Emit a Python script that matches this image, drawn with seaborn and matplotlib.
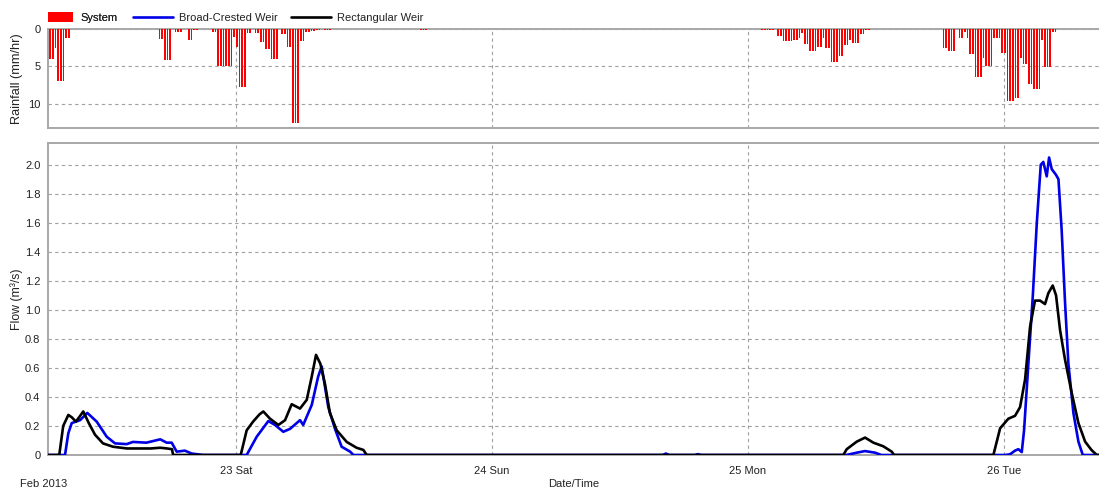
import numpy as np
import pandas as pd
import matplotlib
matplotlib.use("Agg")
import matplotlib.pyplot as plt
import seaborn as sns
from matplotlib.patches import Patch, Rectangle
from matplotlib.lines import Line2D
from matplotlib.legend_handler import HandlerPatch
from matplotlib.ticker import MultipleLocator, FixedLocator, FuncFormatter

# time axis: hours since 22 Feb 2013 00:00
day_ticks = [24, 48, 72, 96]
day_labels = ["23 Sat", "24 Sun", "25 Mon", "26 Tue"]
x_start, x_end = 6.375, 104.9

# rainfall (15-min bars), mm/hr
rain_time = [6.5, 6.75, 7.0, 7.25, 7.5, 7.75, 8.0, 8.25,
             16.75, 17.0, 17.25, 17.5, 17.75, 18.25, 18.5, 18.75, 19.5, 19.75, 20.0, 20.25,
             21.75, 22.0, 22.25, 22.5, 22.75, 23.0, 23.25, 23.5, 23.75, 24.0, 24.25, 24.5, 24.75,
             25.0, 25.25, 25.75, 26.0, 26.25, 26.5, 26.75, 27.0, 27.25, 27.5, 27.75,
             28.25, 28.5, 28.75, 29.0, 29.25, 29.5, 29.75, 30.0, 30.25,
             30.5, 30.75, 31.0, 31.25, 31.5, 31.75, 32.25, 32.5, 32.75,
             41.25, 41.5, 41.75,
             73.25, 73.5, 73.75, 74.0, 74.25, 74.75, 75.0, 75.25, 75.5, 75.75, 76.0,
             76.25, 76.5, 76.75, 77.0, 77.25, 77.5, 77.75, 78.0, 78.25, 78.5, 78.75,
             79.0, 79.25, 79.5, 79.75, 80.0, 80.25, 80.5, 80.75, 81.0, 81.25, 81.5,
             81.75, 82.0, 82.25, 82.5, 82.75, 83.0, 83.25,
             90.25, 90.5, 90.75, 91.0, 91.25, 91.75, 92.0, 92.25, 92.5, 92.75, 93.0,
             93.25, 93.5, 93.75, 94.0, 94.25, 94.5, 94.75, 95.0, 95.25, 95.5, 95.75,
             96.0, 96.25, 96.5, 96.75, 97.0, 97.25, 97.5, 97.75, 98.0, 98.25, 98.5,
             98.75, 99.0, 99.25, 99.5, 99.75, 100.0, 100.25, 100.5, 100.75]
rain_mm = [4.0, 4.0, 2.5, 7.0, 7.0, 7.0, 1.2, 1.2,
           1.3, 1.3, 4.1, 4.1, 4.1, 0.45, 0.45, 0.45, 1.5, 1.5, 0.2, 0.2,
           0.35, 0.35, 5.0, 5.0, 5.0, 5.0, 5.0, 5.0, 1.1, 2.4, 7.7, 7.7, 7.7,
           0.5, 0.5, 0.5, 0.5, 1.8, 1.8, 2.7, 2.7, 4.0, 4.0, 4.0,
           0.7, 0.7, 2.4, 2.4, 12.6, 12.6, 12.6, 1.6, 1.6,
           0.45, 0.4, 0.3, 0.3, 0.2, 0.15, 0.1, 0.1, 0.1,
           0.2, 0.2, 0.2,
           0.15, 0.15, 0.15, 0.15, 0.15, 0.9, 0.9, 1.6, 1.6, 1.6, 1.6,
           1.45, 1.45, 1.2, 0.6, 2.0, 2.0, 3.0, 3.0, 3.0, 2.4, 2.4,
           1.2, 2.5, 2.5, 4.4, 4.4, 4.4, 3.6, 3.6, 2.2, 2.2, 1.5,
           1.9, 1.9, 1.9, 0.7, 0.7, 0.2, 0.2,
           2.5, 2.5, 3.0, 3.0, 3.0, 1.25, 1.25, 0.4, 1.2, 3.4, 3.4,
           6.35, 6.35, 6.35, 3.9, 4.9, 4.9, 4.9, 1.25, 1.25, 1.25, 3.25,
           3.25, 9.6, 9.6, 9.6, 9.15, 9.15, 3.9, 4.7, 4.7, 7.4, 7.4,
           8.0, 8.0, 8.0, 1.5, 5.07, 5.07, 5.07, 0.4, 0.4]

# flow, m3/s
broad_time = [6.375, 7.97, 8.28, 8.6, 9.38, 10.06, 10.94, 11.88, 12.66, 13.75, 14.34, 15.6,
              16.9, 17.5, 17.97, 18.44, 19.2, 19.85, 20.9,
              25.0, 25.94, 27.03, 27.66, 28.43, 29.06, 30.0, 30.3, 31.1, 31.7, 32.03,
              32.65, 33.28, 33.9, 34.7, 35.0,
              64.0, 64.3, 64.6, 67.0, 67.3, 67.6,
              81.2, 82.19, 82.97, 83.9, 84.5,
              96.1, 96.56, 97.03, 97.34, 97.66, 97.875, 98.28, 98.69, 99.07, 99.44, 99.68,
              100.0, 100.22, 100.47, 100.875, 101.1, 101.4, 101.72, 102.03, 102.5, 102.97,
              103.38, 104.9]
broad_flow = [0, 0, 0.15, 0.22, 0.24, 0.29, 0.23, 0.126, 0.08, 0.075, 0.09, 0.085,
              0.108, 0.085, 0.085, 0.023, 0.03, 0.01, 0,
              0, 0.126, 0.234, 0.207, 0.16, 0.18, 0.24, 0.207, 0.345, 0.54, 0.61,
              0.33, 0.18, 0.057, 0.023, 0,
              0, 0.01, 0, 0, 0.006, 0,
              0, 0.016, 0.027, 0.016, 0,
              0, 0.005, 0.03, 0.04, 0.02, 0.17, 0.63, 1.09, 1.6, 2.0, 2.02,
              1.92, 2.05, 1.97, 1.93, 1.9, 1.55, 1.046, 0.63, 0.29, 0.092,
              0, 0]

rect_time = [6.375, 7.43, 7.8, 8.28, 8.6, 9.0, 9.68, 10.2, 10.78, 11.53, 12.47, 13.78,
             15.0, 16.0, 16.9, 17.53, 18.0, 18.1,
             24.44, 25.0, 25.6, 26.2, 26.56, 27.19, 27.97, 28.6, 29.22, 30.0, 30.63, 31.1,
             31.5, 31.9, 32.34, 32.8, 33.44, 34.38, 35.3, 35.94, 36.25,
             80.93, 81.25, 82.19, 82.97, 83.75, 84.68, 85.47, 85.69,
             95.0, 95.63, 96.4, 97.03, 97.5, 97.97, 98.44, 98.9, 99.375, 99.84, 100.15,
             100.56, 100.875, 101.25, 101.72, 102.35, 102.97, 103.6, 104.2, 104.69, 104.9]
rect_flow = [0, 0, 0.2, 0.276, 0.26, 0.23, 0.30, 0.22, 0.14, 0.08, 0.057, 0.045,
             0.045, 0.045, 0.05, 0.045, 0.04, 0,
             0, 0.17, 0.23, 0.28, 0.30, 0.25, 0.207, 0.24, 0.35, 0.32, 0.38, 0.54,
             0.69, 0.63, 0.49, 0.29, 0.17, 0.09, 0.05, 0.035, 0,
             0, 0.04, 0.092, 0.12, 0.085, 0.06, 0.023, 0,
             0, 0.184, 0.25, 0.27, 0.33, 0.52, 0.885, 1.064, 1.064, 1.04, 1.115,
             1.168, 1.1, 0.86, 0.655, 0.425, 0.22, 0.092, 0.034, 0, 0]

series_names = ["System", "Broad-Crested Weir", "Rectangular Weir"]
rain_color = "#ff0000"
broad_color = "#0000e6"
rect_color = "#000000"

sns.set_theme(style="white")
plt.rcParams["font.family"] = ["Liberation Sans", "DejaVu Sans"]
txt = "#222222"
grid_c = "#a0a0a0"
spine_c = "#a8a8a8"

W, H = 1099, 490
fig = plt.figure(figsize=(W / 100, H / 100), dpi=100)
L, R = 48, 1099
ax_r = fig.add_axes([L / W, 1 - 128 / H, (R - L) / W, 99 / H])
ax_f = fig.add_axes([L / W, 1 - 455 / H, (R - L) / W, 312 / H])

# rainfall
ax_r.bar(rain_time, rain_mm, width=0.16, align="edge", color=rain_color, linewidth=0, zorder=3)
ax_r.set_ylim(13.2, 0)
ax_r.set_xlim(x_start, x_end)
ax_r.yaxis.set_major_locator(FixedLocator([0, 5, 10]))
ax_r.yaxis.set_minor_locator(MultipleLocator(1))
ax_r.set_ylabel("Rainfall (mm/hr)", fontsize=9.2, color=txt)
ax_r.set_xticks(day_ticks)
ax_r.set_xticklabels([])
ax_r.tick_params(axis="x", length=0)

# flow
df_b = pd.DataFrame({"t": broad_time, "q": broad_flow})
df_r = pd.DataFrame({"t": rect_time, "q": rect_flow})
sns.lineplot(data=df_b, x="t", y="q", ax=ax_f, color=broad_color, linewidth=1.9, zorder=3)
sns.lineplot(data=df_r, x="t", y="q", ax=ax_f, color=rect_color, linewidth=1.9, zorder=4)
ax_f.set_xlim(x_start, x_end)
ax_f.set_ylim(0, 2.15)
ax_f.yaxis.set_major_locator(MultipleLocator(0.2))
ax_f.yaxis.set_minor_locator(MultipleLocator(0.05))
ax_f.yaxis.set_major_formatter(FuncFormatter(lambda v, p: "0" if abs(v) < 1e-9 else f"{v:.1f}"))
ax_f.set_ylabel("Flow (m\u00b3/s)", fontsize=8.8, color=txt)
ax_f.set_xticks(day_ticks)
ax_f.set_xticklabels(day_labels)
ax_f.set_xlabel("Date/Time", fontsize=8, color=txt)
ax_f.xaxis.set_label_coords(0.5, -(484 - 455) / 312)
ax_f.xaxis.label.set_va("center")
ax_f.tick_params(axis="x", direction="out", length=5, width=0.8, color="#808080",
                 pad=3, labelsize=8, labelcolor=txt)

for ax in (ax_r, ax_f):
    ax.yaxis.label.set_va("center")
    ax.yaxis.set_label_coords((17 - L) / (R - L), 0.5)
    ax.grid(True, which="major", color=grid_c, linestyle=(0, (3, 3)), linewidth=0.8)
    ax.set_axisbelow(True)
    ax.tick_params(axis="y", which="both", direction="in", length=5, width=0.8,
                   color="#808080", pad=5.5, labelsize=8, labelcolor=txt)
    ax.spines["right"].set_visible(False)
    for s in ("top", "bottom", "left"):
        ax.spines[s].set_color(spine_c)
        ax.spines[s].set_linewidth(1.4)

fig.text(20 / W, 1 - 484 / H, "Feb 2013", fontsize=8, color=txt, va="center", ha="left")

# legend
fs = 8
em = fs * 100 / 72


def rect_patch(legend, orig_handle, xdescent, ydescent, width, height, fontsize):
    h = 10 * 72 / 100
    return Rectangle((-xdescent, -ydescent + height / 2 - h / 2), width, h)


leg1 = fig.legend(handles=[Patch(facecolor=rain_color, edgecolor="none", label=series_names[0])],
                  loc="center left", bbox_to_anchor=(L / W, 1 - 18 / H), frameon=False,
                  borderpad=0, borderaxespad=0, handlelength=25 / em, handleheight=0.7,
                  handletextpad=7 / em, fontsize=fs,
                  handler_map={Patch: HandlerPatch(patch_func=rect_patch)})
for t in leg1.get_texts():
    t.set_color(txt)
line_handles = [Line2D([], [], color=broad_color, lw=1.9, label=series_names[1]),
                Line2D([], [], color=rect_color, lw=1.9, label=series_names[2])]
leg2 = fig.legend(handles=line_handles, loc="center left", bbox_to_anchor=(133 / W, 1 - 18 / H),
                  ncol=2, frameon=False, borderpad=0, borderaxespad=0,
                  handlelength=40 / em, handletextpad=6 / em, columnspacing=13 / em, fontsize=fs)
for t in leg2.get_texts():
    t.set_color(txt)
fig.add_artist(leg1)

fig.savefig("out.png", dpi=100)
